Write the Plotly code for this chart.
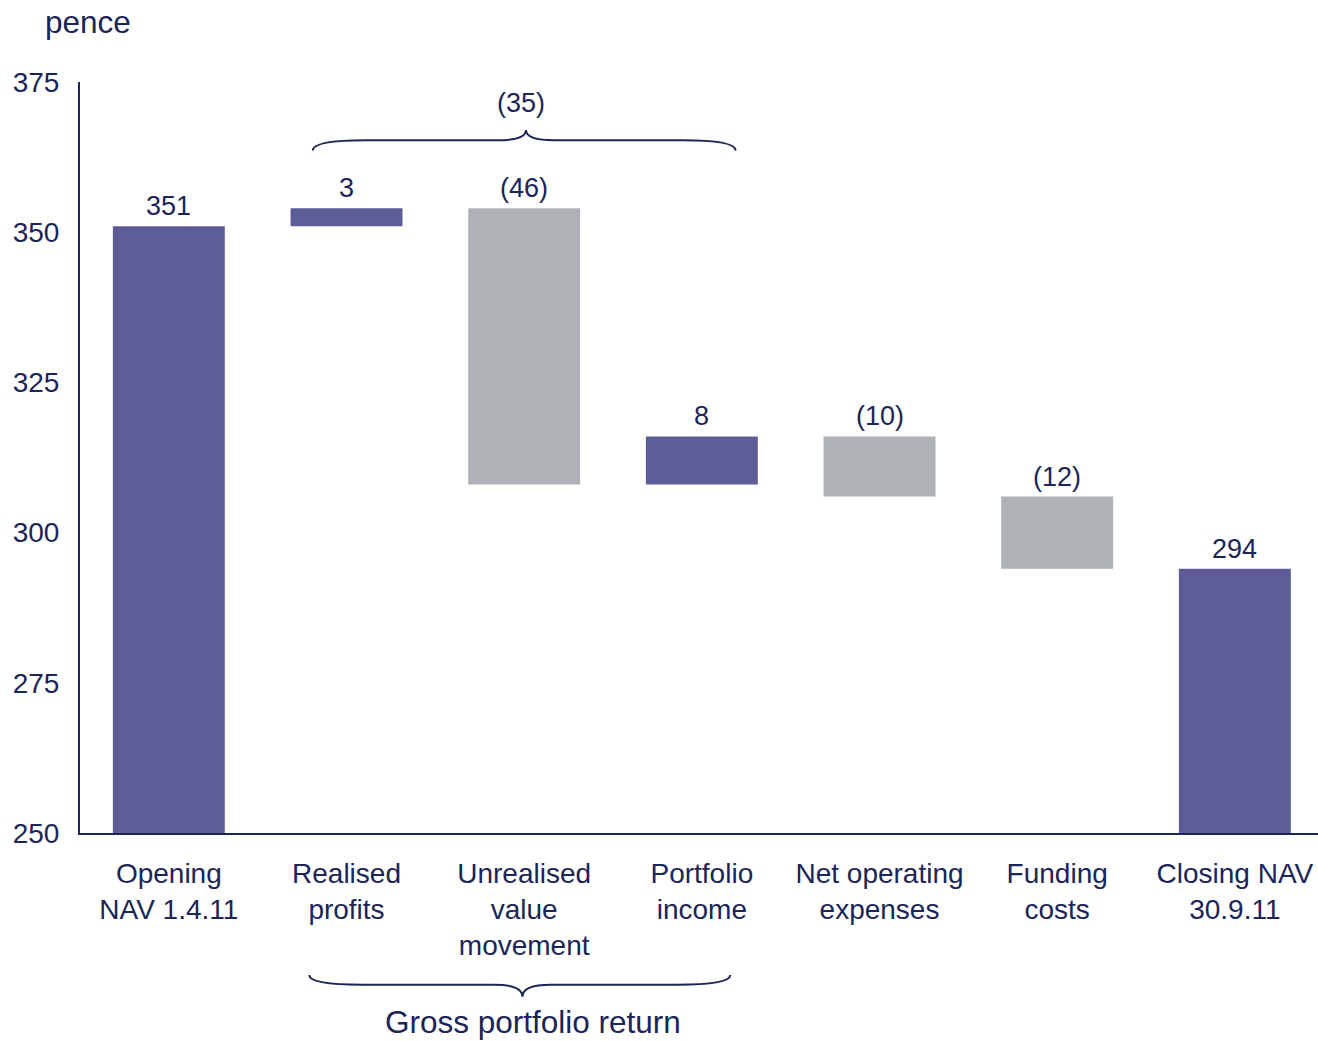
import plotly.graph_objects as go

# NAV bridge, pence per share
categories = ["Opening<br>NAV 1.4.11", "Realised<br>profits", "Unrealised<br>value<br>movement",
              "Portfolio<br>income", "Net operating<br>expenses", "Funding<br>costs", "Closing NAV<br>30.9.11"]
changes = [351, 3, -46, 8, -10, -12, 294]
measures = ["total", "relative", "relative", "relative", "relative", "relative", "total"]
value_labels = ["351", "3", "(46)", "8", "(10)", "(12)", "294"]
gross_return_label = "(35)"
y_ticks = [250, 275, 300, 325, 350, 375]

PURPLE = "#5E5C97"
GREY = "#AEB2B6"
NAVY = "#1B2557"
FONT = "Liberation Sans, Arial, sans-serif"

# running bases for the floating bars
bases, heights, colors, tops = [], [], [], []
level = 0
for v, m in zip(changes, measures):
    if m == "total":
        bases.append(250)
        heights.append(v - 250)
        level = v
        colors.append(PURPLE)
        tops.append(v)
    else:
        start, end = level, level + v
        bases.append(min(start, end))
        heights.append(abs(v))
        colors.append(PURPLE if v > 0 else GREY)
        tops.append(max(start, end))
        level = end

xs = list(range(len(categories)))

fig = go.Figure(go.Bar(
    x=xs, y=heights, base=bases, marker=dict(color=colors, line=dict(width=0)),
    hoverinfo="skip", showlegend=False,
))

annotations = []
for x, t, lab in zip(xs, tops, value_labels):
    annotations.append(dict(x=x, y=t, xref="x", yref="y", text=lab, showarrow=False,
                            yanchor="bottom", yshift=3, font=dict(size=27, color=NAVY, family=FONT)))

# brace over the gross portfolio return components
bx0, bx1, bxm = 0.81, 3.19, 2.01
ye, yl, yt = 363.6, 365.3, 367.0
dx_end, dx_mid = 0.30, 0.16
top_brace = (f"M {bx0},{ye} Q {bx0},{yl} {bx0+dx_end},{yl} L {bxm-dx_mid},{yl} "
             f"Q {bxm},{yl} {bxm},{yt} Q {bxm},{yl} {bxm+dx_mid},{yl} "
             f"L {bx1-dx_end},{yl} Q {bx1},{yl} {bx1},{ye}")
annotations.append(dict(x=1.98, y=yt, xref="x", yref="y", text=gross_return_label, showarrow=False,
                        yanchor="bottom", yshift=10, font=dict(size=27, color=NAVY, family=FONT)))

# brace under the category labels
cx0, cx1, cxm = 0.79, 3.16, 1.99
pe, pl, pt = -0.189, -0.202, -0.218
bottom_brace = (f"M {cx0},{pe} Q {cx0},{pl} {cx0+dx_end},{pl} L {cxm-dx_mid},{pl} "
                f"Q {cxm},{pl} {cxm},{pt} Q {cxm},{pl} {cxm+dx_mid},{pl} "
                f"L {cx1-dx_end},{pl} Q {cx1},{pl} {cx1},{pe}")
annotations.append(dict(x=2.05, y=pt, xref="x", yref="paper",
                        text="Gross portfolio return", showarrow=False, yanchor="top", yshift=-5,
                        font=dict(size=31.5, color=NAVY, family=FONT)))
annotations.append(dict(x=0, y=1, xref="paper", yref="paper", text="pence", showarrow=False,
                        xanchor="left", yanchor="bottom", xshift=-37, yshift=40,
                        font=dict(size=31.5, color=NAVY, family=FONT)))

fig.update_layout(
    width=1318, height=1041,
    margin=dict(l=80, r=0, t=82, b=208),
    paper_bgcolor="white", plot_bgcolor="white",
    bargap=0.37,
    font=dict(family=FONT, color=NAVY),
    annotations=annotations,
    shapes=[
        dict(type="path", path=top_brace, xref="x", yref="y", line=dict(color=NAVY, width=2)),
        dict(type="path", path=bottom_brace, xref="x", yref="paper", line=dict(color=NAVY, width=2)),
    ],
    xaxis=dict(
        tickmode="array", tickvals=xs, ticktext=categories, range=[-0.5, 6.468],
        showline=True, linecolor=NAVY, linewidth=2, showgrid=False, zeroline=False,
        ticks="", tickfont=dict(size=28, color=NAVY, family=FONT), ticklabelstandoff=14,
    ),
    yaxis=dict(
        range=[250, 375], tickvals=y_ticks, showline=True, linecolor=NAVY, linewidth=2,
        showgrid=False, zeroline=False, ticks="", ticklabelstandoff=13,
        tickfont=dict(size=28, color=NAVY, family=FONT),
    ),
)

fig.write_html("out.html")
